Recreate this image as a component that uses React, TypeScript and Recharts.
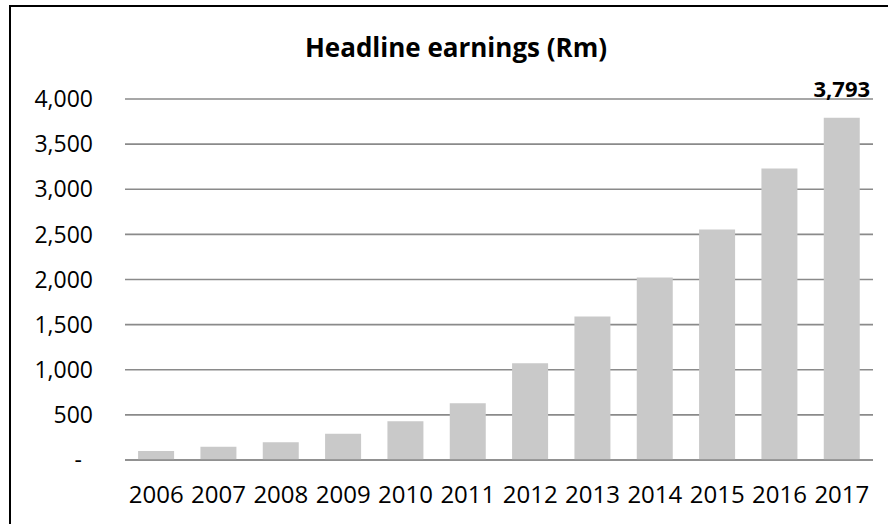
import React from 'react';
import { BarChart, Bar, XAxis, YAxis, CartesianGrid, LabelList } from 'recharts';

const years = ['2006', '2007', '2008', '2009', '2010', '2011', '2012', '2013', '2014', '2015', '2016', '2017'];
const earnings = [100, 147, 196, 292, 429, 628, 1072, 1589, 2021, 2553, 3230, 3793];
const labelled = [null, null, null, null, null, null, null, null, null, null, null, 3793];
const yTicks = [0, 500, 1000, 1500, 2000, 2500, 3000, 3500, 4000];

const data = years.map((year, i) => ({ year, value: earnings[i], label: labelled[i] }));

const font = '"Open Sans", sans-serif';

const YTick = (props: any) => {
  const { x, y, payload } = props;
  const v = payload.value as number;
  return (
    <text
      x={v === 0 ? x - 11 : x}
      y={y}
      dy="0.355em"
      textAnchor="end"
      fontSize={23}
      fontFamily={font}
      fill="#000"
    >
      {v === 0 ? '-' : v.toLocaleString('en-US')}
    </text>
  );
};

const TopLabel = (props: any) => {
  const { x, y, width, value } = props;
  if (value === null || value === undefined) return null;
  return (
    <text
      x={x + width / 2}
      y={y - 21}
      textAnchor="middle"
      fontSize={22}
      fontWeight="bold"
      fontFamily={font}
      fill="#000"
    >
      {Number(value).toLocaleString('en-US')}
    </text>
  );
};

export default function App() {
  return (
    <div style={{ position: 'absolute', left: 0, top: 0, width: 888, height: 524, overflow: 'hidden', background: '#fff' }}>
      <div
        style={{
          position: 'absolute',
          left: 9,
          top: 5,
          width: 940,
          height: 600,
          borderLeft: '2px solid #000',
          borderTop: '2px solid #000',
        }}
      />
      <div
        style={{
          position: 'absolute',
          left: 0,
          top: 34,
          width: 912,
          textAlign: 'center',
          fontFamily: font,
          fontWeight: 'bold',
          fontSize: 26,
          lineHeight: '26px',
          color: '#000',
        }}
      >
        Headline earnings (Rm)
      </div>
      <div style={{ position: 'absolute', left: 0, top: 0 }}>
        <BarChart
          width={888}
          height={524}
          data={data}
          margin={{ top: 99, right: 15, left: 0, bottom: 24 }}
          barCategoryGap="21%"
        >
          <CartesianGrid vertical={false} stroke="#8a8a8a" strokeWidth={1.6} />
          <XAxis
            dataKey="year"
            height={40}
            axisLine={{ stroke: '#8a8a8a', strokeWidth: 1.6 }}
            tickLine={false}
            tickSize={6}
            tickMargin={20}
            interval={0}
            tick={{ fontSize: 24, fontFamily: font, fill: '#000' }}
          />
          <YAxis
            width={125}
            domain={[0, 4000]}
            ticks={yTicks}
            axisLine={false}
            tickLine={false}
            tickSize={6}
            tickMargin={26}
            tick={<YTick />}
          />
          <Bar dataKey="value" fill="#c9c9c9" isAnimationActive={false}>
            <LabelList dataKey="label" content={<TopLabel />} />
          </Bar>
        </BarChart>
      </div>
    </div>
  );
}
